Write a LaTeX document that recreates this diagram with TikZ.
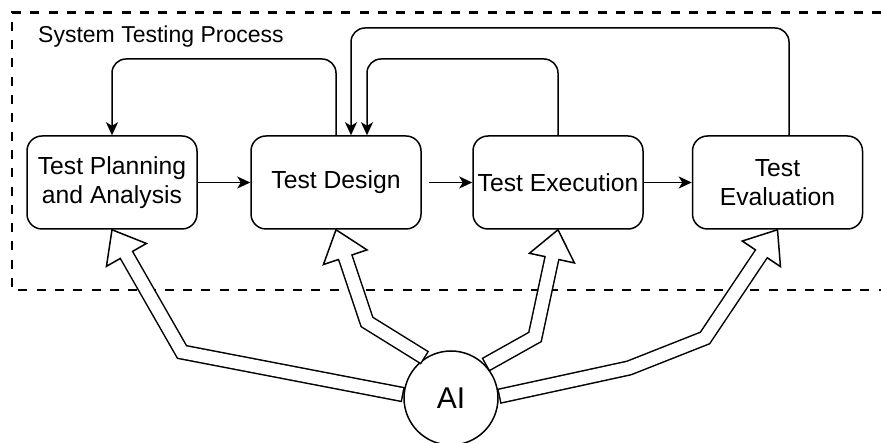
\documentclass[tikz,border=0pt]{standalone}
\usepackage{fontspec}
\setmainfont{Liberation Sans}
\usetikzlibrary{calc,arrows.meta}
\begin{document}
\begin{tikzpicture}[x=1pt,y=-1pt,
  stage/.style={draw, line width=1.5pt, rounded corners=15pt, minimum width=170pt, minimum height=93pt, align=center, font=\fontsize{24.7}{29}\selectfont, inner sep=0pt},
  flow/.style={line width=1.5pt, -{Stealth[length=13pt,width=12pt,inset=3.5pt]}},
  fback/.style={flow, rounded corners=14pt},
  dashframe/.style={line width=2.6pt, dash pattern=on 9pt off 9.3pt},
  headst/.style={draw, fill=white, line width=1.5pt, line join=miter},
  shaftout/.style={line width=15.5pt, line join=miter},
  shaftin/.style={white, line width=12.5pt, line join=miter}
]
\useasboundingbox (0,0) rectangle (881,443);
\fill[white] (0,0) rectangle (881,443);
\draw[dashframe] (881,12.5) -- (12,12.5) -- (12,290) -- (881,290);
\node[anchor=base west, font=\fontsize{23}{27}\selectfont, inner sep=0pt] (title) at (38,43) {System Testing Process};

\node[stage] (b1) at (112,182.5) {Test Planning\\and Analysis};
\node[stage] (b2) at (336,182.5) {Test Design};
\node[stage] (b3) at (558,182.5) {Test Execution};
\node[stage] (b4) at (777.5,182.5) {Test\\Evaluation};

\draw[flow] (b1.east) -- (b2.west);
\draw[flow] ([xshift=7pt]b2.east) -- (b3.west);
\draw[flow] (b3.east) -- (b4.west);

\coordinate (ya) at (0,59);
\coordinate (yb) at (0,28);
\coordinate (e4) at ([xshift=11.5pt]b4.north);
\coordinate (e2a) at ([xshift=31pt]b2.north);
\coordinate (e2b) at ([xshift=15pt]b2.north);
\draw[fback] (b2.north) -- (b2.north |- ya) -| (b1.north);
\draw[fback] (b3.north) -- (b3.north |- ya) -| (e2a);
\draw[fback] (e4) -- (e4 |- yb) -| (e2b);

\node[draw, circle, fill=white, line width=1.5pt, minimum size=94pt, inner sep=0pt, font=\fontsize{30}{32}\selectfont] (ai) at (451,398) {AI};

% arrow 1
\coordinate (k1) at (182,352);
\coordinate (h1) at ($(b1.south)!29pt!(k1)$);
\draw[headst] (b1.south) -- ($(h1)!23pt!90:(b1.south)$) -- ($(h1)!23pt!-90:(b1.south)$) -- cycle;
\draw[shaftout] (ai.176) -- (k1) -- (h1);
\draw[shaftin] ($(ai.176)!1.5pt!(k1)$) -- (k1) -- ($(h1)!2pt!(b1.south)$);

% arrow 2
\coordinate (k2) at (367,322);
\coordinate (h2) at ($(b2.south)!29pt!(k2)$);
\draw[headst] (b2.south) -- ($(h2)!23pt!90:(b2.south)$) -- ($(h2)!23pt!-90:(b2.south)$) -- cycle;
\draw[shaftout] (ai.123) -- (k2) -- (h2);
\draw[shaftin] ($(ai.123)!1.5pt!(k2)$) -- (k2) -- ($(h2)!2pt!(b2.south)$);

% arrow 3
\coordinate (k3) at (535,337);
\coordinate (h3) at ($(b3.south)!29pt!(k3)$);
\draw[headst] (b3.south) -- ($(h3)!23pt!90:(b3.south)$) -- ($(h3)!23pt!-90:(b3.south)$) -- cycle;
\draw[shaftout] (ai.44) -- (k3) -- (h3);
\draw[shaftin] ($(ai.44)!1.5pt!(k3)$) -- (k3) -- ($(h3)!2pt!(b3.south)$);

% arrow 4
\coordinate (k4a) at (629,368);
\coordinate (k4b) at (705,338);
\coordinate (h4) at ($(b4.south)!29pt!(k4b)$);
\draw[headst] (b4.south) -- ($(h4)!23pt!90:(b4.south)$) -- ($(h4)!23pt!-90:(b4.south)$) -- cycle;
\draw[shaftout] (ai.2) -- (k4a) -- (k4b) -- (h4);
\draw[shaftin] ($(ai.2)!1.5pt!(k4a)$) -- (k4a) -- (k4b) -- ($(h4)!2pt!(b4.south)$);
\end{tikzpicture}
\end{document}
